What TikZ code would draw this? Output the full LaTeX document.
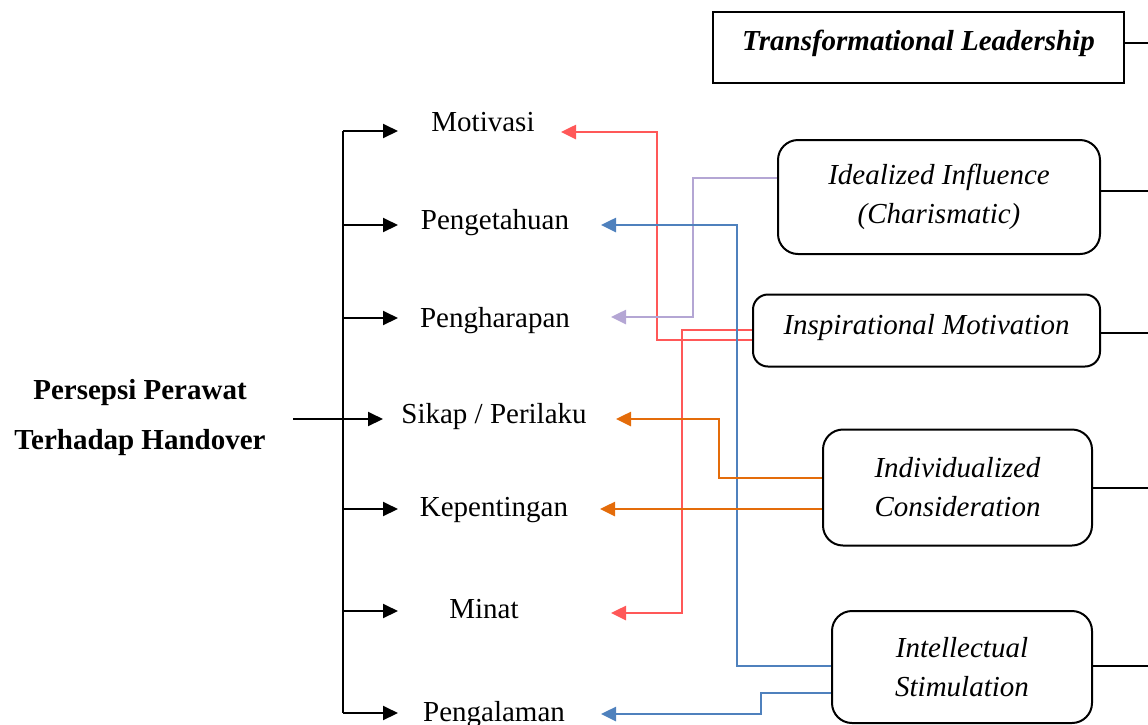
\documentclass[tikz,border=0pt]{standalone}
\usepackage{fontspec}
\setmainfont{Liberation Serif}
\usetikzlibrary{arrows.meta}
\definecolor{cred}{RGB}{255,88,88}
\definecolor{cpur}{RGB}{180,166,212}
\definecolor{cblu}{RGB}{79,129,189}
\definecolor{corg}{RGB}{228,108,10}
\begin{document}
\begin{tikzpicture}[x=1pt,y=-1pt,
  every node/.style={font=\fontsize{29}{39}\selectfont, inner sep=0pt},
  lbl/.style={anchor=base},
  bold/.style={anchor=base, font=\fontsize{29}{39}\selectfont\bfseries},
  box/.style={draw, line width=2pt, rounded corners=20pt, align=center,
    font=\fontsize{29}{39}\selectfont\itshape},
  blk/.style={line width=2pt},
  arr/.style={-{Triangle[length=15pt,width=14pt]}},
  col/.style={line width=2.6pt, arr}]
\useasboundingbox (0,0) rectangle (1148,724);

% left labels
\node[bold] (p1) at (140,399) {Persepsi Perawat};
\node[bold] (p2) at (140,449) {Terhadap Handover};

% middle labels
\node[lbl] (mot) at (483,131) {Motivasi};
\node[lbl] (pen) at (495,229) {Pengetahuan};
\node[lbl] (har) at (495,327) {Pengharapan};
\node[lbl] (sik) at (494,423) {Sikap / Perilaku};
\node[lbl] (kep) at (494,516) {Kepentingan};
\node[lbl] (min) at (484,618) {Minat};
\node[lbl] (pgl) at (494,721) {Pengalaman};

% boxes
\node[box, rounded corners=0pt, minimum width=411pt, minimum height=71pt,
  font=\fontsize{29}{39}\selectfont\bfseries\itshape, text depth=14.7pt]
  (tl) at (918.5,47.5) {Transformational Leadership};
\node[box, minimum width=322pt, minimum height=114pt] (idl) at (939,197)
  {Idealized Influence\\(Charismatic)};
\node[box, rounded corners=15pt, minimum width=347pt, minimum height=72pt, text depth=12.7pt]
  (ins) at (926.5,330.5) {Inspirational Motivation};
\node[box, minimum width=269pt, minimum height=116pt] (ind) at (957.5,487.5)
  {Individualized\\Consideration};
\node[box, minimum width=260pt, minimum height=112pt] (ist) at (962,667)
  {Intellectual\\Stimulation};

% black tree
\coordinate (lin) at (293,419);
\coordinate (td) at (383,419);
\foreach \n/\y in {a/131,b/225,c/318,e/509,f/611,g/713}{
  \coordinate (j\n) at (343,\y);
  \coordinate (t\n) at (398,\y);
}
\draw[blk] (ja) -- (jg);
\foreach \n in {a,b,c,e,f,g}{ \draw[blk,arr] (j\n) -- (t\n); }
\draw[blk,arr] (lin) -- (td);

% right stubs
\foreach \b/\y in {tl/43,idl/191,ins/333,ind/488,ist/666}{
  \coordinate (r\b) at (1148,\y);
  \draw[blk] (\b.east |- r\b) -- (r\b);
}

% coloured connectors
\coordinate (rv1) at (657,132);  \coordinate (rt1) at (561,132);
\coordinate (rv2) at (682,613);  \coordinate (rt2) at (611,613);
\coordinate (pv)  at (693,317);  \coordinate (pt)  at (611,317);
\coordinate (bv1) at (737,225);  \coordinate (bt1) at (601,225);
\coordinate (bv2) at (761,714);  \coordinate (bt2) at (601,714);
\coordinate (ov)  at (719,419);  \coordinate (ot1) at (616,419);
\coordinate (ot2) at (600,509);

\draw[col,cred] (ins.west |- 0,340) -| (rv1) -- (rt1);
\draw[col,cred] (ins.west |- 0,330) -| (rv2) -- (rt2);
\draw[col,cpur] (idl.west |- 0,178) -| (pv) -- (pt);
\draw[col,cblu] (ist.west |- 0,666) -| (bv1) -- (bt1);
\draw[col,cblu] (ist.west |- 0,693) -| (bv2) -- (bt2);
\draw[col,corg] (ind.west |- 0,478) -| (ov) -- (ot1);
\draw[col,corg] (ind.west |- 0,509) -- (ot2);
\end{tikzpicture}
\end{document}
